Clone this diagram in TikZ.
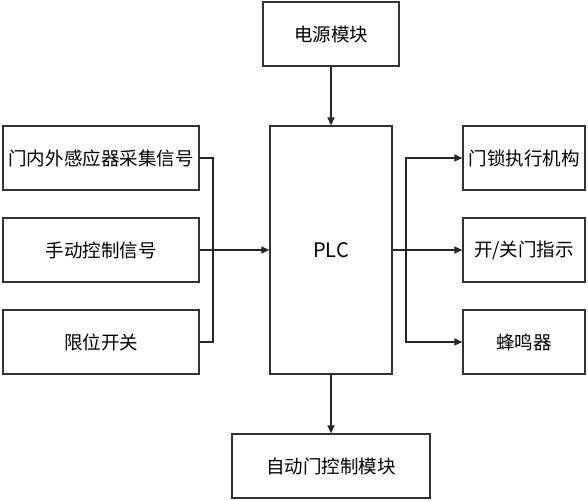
\documentclass[tikz,border=0pt]{standalone}
\usepackage{fontspec}
\setmainfont{Noto Sans CJK SC}
\usetikzlibrary{arrows.meta}

\tikzset{
  blk/.style={draw=black!80,line width=1.2pt,minimum height=64pt,inner sep=0pt},
  arr/.style={-{Triangle[length=8pt,width=7pt]}},
  ln/.style={draw=black!85,line width=1.2pt}
}

\begin{document}
\begin{tikzpicture}[x=1pt,y=-1pt,font=\fontsize{18.5}{20}\selectfont]
  \useasboundingbox (0,0) rectangle (588,500);
  \node[blk,minimum width=136pt] (pwr) at (331,34) {电源模块};
  \node[blk,minimum width=122pt,minimum height=248pt,font=\fontsize{20}{22}\selectfont] (plc) at (331,250) {PLC};
  \node[blk,minimum width=196pt] (sens) at (101,158) {门内外感应器采集信号};
  \node[blk,minimum width=196pt] (man) at (101,250) {手动控制信号};
  \node[blk,minimum width=196pt] (lim) at (101,342) {限位开关};
  \node[blk,minimum width=122pt] (lock) at (524,158) {门锁执行机构};
  \node[blk,minimum width=122pt] (ind) at (524,250) {开/关门指示};
  \node[blk,minimum width=122pt] (buz) at (524,342) {蜂鸣器};
  \node[blk,minimum width=198pt] (ctl) at (331,466) {自动门控制模块};
  \coordinate (lbus) at (213,250);
  \coordinate (rbus) at (406,250);
  % inputs
  \path[ln] (sens.east) -| (lbus) (lim.east) -| (lbus);
  \path[ln,arr] (man.east) -- (plc.west);
  % outputs
  \path[ln] (plc.east) -- (rbus);
  \path[ln,arr] (rbus) |- (lock.west);
  \path[ln,arr] (rbus) -- (ind.west);
  \path[ln,arr] (rbus) |- (buz.west);
  \path[ln,arr] (pwr) -- (plc);
  \path[ln,arr] (plc) -- (ctl);
\end{tikzpicture}
\end{document}
